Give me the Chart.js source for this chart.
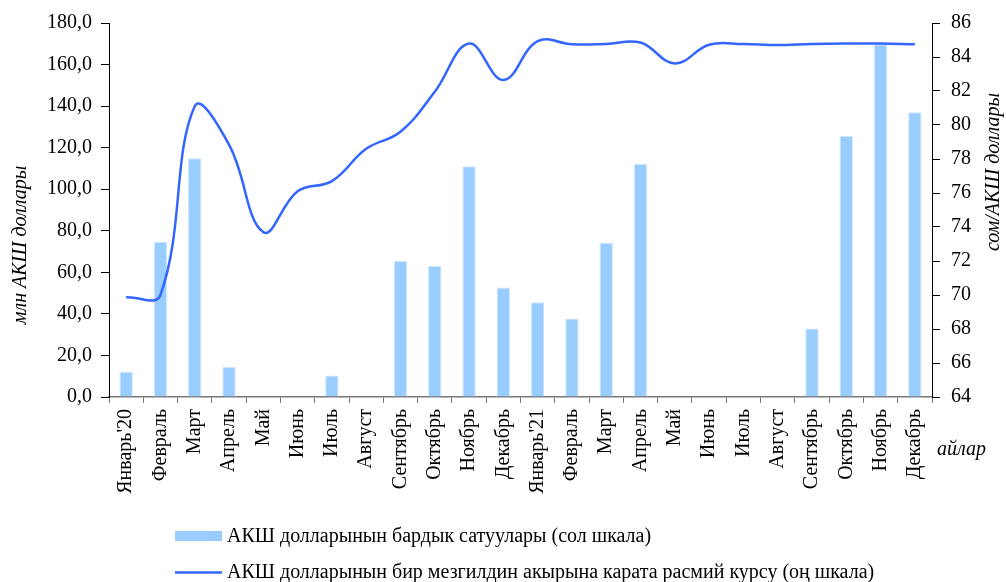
<!DOCTYPE html>
<html>
<head>
<meta charset="utf-8">
<script src="https://cdn.jsdelivr.net/npm/chart.js@4/dist/chart.umd.min.js"></script>
<style>
html,body{margin:0;padding:0;background:#fff;}
#wrap{width:1006px;height:582px;position:relative;}
</style>
</head>
<body>
<div id="wrap"><canvas id="c" width="1006" height="582"></canvas></div>
<script>
const categories = ["Январь'20","Февраль","Март","Апрель","Май","Июнь","Июль","Август","Сентябрь","Октябрь","Ноябрь","Декабрь","Январь'21","Февраль","Март","Апрель","Май","Июнь","Июль","Август","Сентябрь","Октябрь","Ноябрь","Декабрь"];
const salesValues = [12.1,74.7,114.9,14.4,0,0,10.4,0,65.4,63.0,111.0,52.7,45.6,37.8,74.2,112.3,0,0,0,0,33.0,125.6,169.8,137.1];
const rateValues = [69.87,70.0,81.1,78.84,73.7,76.1,76.7,78.6,79.6,81.96,84.79,82.65,84.93,84.75,84.77,84.85,83.62,84.72,84.76,84.7,84.76,84.79,84.79,84.75];
const salesLabel = "АКШ долларынын бардык сатуулары (сол шкала)";
const rateLabel = "АКШ долларынын бир мезгилдин акырына карата расмий курсу (оң шкала)";
const leftTitle = "млн АКШ доллары";
const rightTitle = "сом/АКШ доллары";
const xTitle = "айлар";

const FONT = "'Liberation Serif','Times New Roman',serif";
const barColor = "#99ccff";
const lineColor = "#3366ff";

const textPlugin = {
  id: 'texts',
  afterDraw(chart) {
    const ctx = chart.ctx;
    ctx.save();
    ctx.fillStyle = '#000';
    ctx.font = "italic 20px " + FONT;
    ctx.textBaseline = 'middle';
    ctx.textAlign = 'center';
    ctx.save(); ctx.translate(21, 245); ctx.rotate(-Math.PI/2); ctx.fillText(leftTitle, 0, 0); ctx.restore();
    ctx.save(); ctx.translate(994, 172); ctx.rotate(-Math.PI/2); ctx.fillText(rightTitle, 0, 0); ctx.restore();
    ctx.textAlign = 'left';
    ctx.fillText(xTitle, 937, 450);
    // legend
    ctx.font = "20px " + FONT;
    const ds = chart.data.datasets;
    ctx.fillStyle = ds[1].backgroundColor;
    ctx.fillRect(175, 531, 47, 10);
    ctx.fillStyle = '#000';
    ctx.fillText(ds[1].label, 227, 537);
    ctx.strokeStyle = ds[0].borderColor;
    ctx.lineWidth = 2.5;
    ctx.beginPath(); ctx.moveTo(175, 572.5); ctx.lineTo(222, 572.5); ctx.stroke();
    ctx.fillText(ds[0].label, 227, 573);
    ctx.restore();
  }
};

new Chart(document.getElementById('c'), {
  data: {
    labels: categories,
    datasets: [
      { type: 'line', label: rateLabel, data: rateValues, yAxisID: 'y2', borderColor: lineColor, backgroundColor: lineColor, borderWidth: 2.5, pointRadius: 0, tension: 0.4, fill: false, order: 0 },
      { type: 'bar', label: salesLabel, data: salesValues, yAxisID: 'y', backgroundColor: barColor, borderColor: '#cfe6ff', borderWidth: 1, barPercentage: 0.39, categoryPercentage: 1.0, order: 1 }
    ]
  },
  options: {
    responsive: false,
    animation: false,
    layout: { padding: { top: 21, left: 0, right: 0, bottom: 0 } },
    plugins: { legend: { display: false }, tooltip: { enabled: false } },
    scales: {
      x: {
        type: 'category',
        offset: true,
        grid: { offset: true, drawOnChartArea: false, drawTicks: true, tickLength: 6, color: '#777', lineWidth: 1 },
        border: { color: '#777', width: 1.5 },
        ticks: { autoSkip: false, minRotation: 90, maxRotation: 90, padding: 6, color: '#000', font: { family: FONT, size: 20 } },
        afterFit(s) { s.height = 185; }
      },
      y: {
        position: 'left',
        min: 0, max: 180,
        ticks: { stepSize: 20, padding: 9, color: '#000', font: { family: FONT, size: 20 }, callback: v => v.toFixed(1).replace('.', ',') },
        grid: { drawOnChartArea: false, tickLength: 8, color: '#000' },
        border: { color: '#000', width: 1 },
        afterFit(s) { s.width = 109; }
      },
      y2: {
        position: 'right',
        min: 64, max: 86,
        ticks: { stepSize: 2, padding: 11, color: '#000', font: { family: FONT, size: 20 } },
        grid: { drawOnChartArea: false, tickLength: 8, color: '#000' },
        border: { color: '#000', width: 1 },
        afterFit(s) { s.width = 74; }
      }
    }
  },
  plugins: [textPlugin]
});
</script>
</body>
</html>
